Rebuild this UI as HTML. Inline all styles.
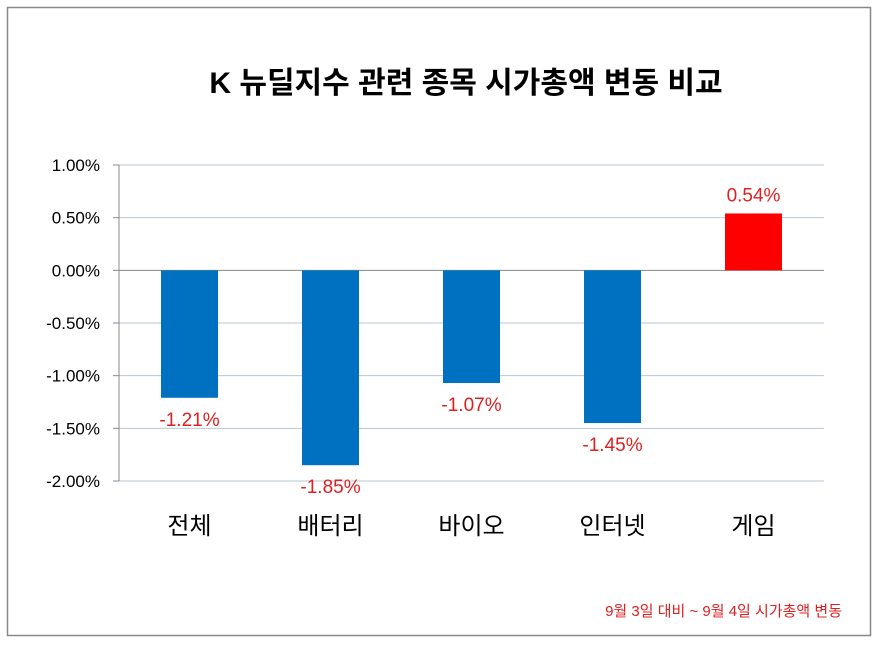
<!DOCTYPE html>
<html><head><meta charset="utf-8"><style>
body{margin:0;background:#fff;}
svg text{font-family:"Liberation Sans","Noto Sans CJK KR",sans-serif;}
</style></head><body>
<svg width="878" height="646" xmlns="http://www.w3.org/2000/svg">
<rect x="7.5" y="7.5" width="863" height="628" fill="#fff" stroke="#888" stroke-width="1.5"/>
<text x="466" y="93" text-anchor="middle" font-size="30" font-weight="bold" fill="#000">K 뉴딜지수  관련  종목 시가총액 변동 비교</text>
<g id="grid"></g><g id="bars"></g><g id="labels"></g>
<text x="842" y="616" text-anchor="end" font-size="15" fill="#e02020">9월 3일 대비 ~ 9월 4일 시가총액 변동</text>
<script>
const categories=["전체","배터리","바이오","인터넷","게임"];
const values=[-1.21,-1.85,-1.07,-1.45,0.54];
const valueLabels=["-1.21%","-1.85%","-1.07%","-1.45%","0.54%"];
const ticks=[1,0.5,0,-0.5,-1,-1.5,-2];
const tickLabels=["1.00%","0.50%","0.00%","-0.50%","-1.00%","-1.50%","-2.00%"];
const ns="http://www.w3.org/2000/svg";
const x0=119,x1=824,yTop=165,yBot=481;
function y(v){return yTop+(1-v)/3*(yBot-yTop);}
const bw=(x1-x0)/categories.length;
function xc(i){return x0+bw*(i+0.5);}
function mk(t,a,p){const e=document.createElementNS(ns,t);for(const k in a)e.setAttribute(k,a[k]);p.appendChild(e);return e;}
const g=document.getElementById('grid'),b=document.getElementById('bars'),l=document.getElementById('labels');
ticks.forEach((v,i)=>{
 const ln=mk('line',{x1:x0,x2:x1,y1:y(v),y2:y(v),stroke:v===0?'#888':'#b8c6d3','stroke-width':1},g);
 
 
 const tk=mk('line',{x1:x0-6,x2:x0,y1:y(v),y2:y(v),stroke:'#888'},g);
 
 
 const t=mk('text',{x:x0-19,y:y(v)+6,'text-anchor':'end','font-size':17,fill:'#000'},g);
 t.textContent=tickLabels[i];
 
 
});
const ax=mk('line',{x1:x0,x2:x0,y1:yTop,y2:yBot,stroke:'#888'},g);


categories.forEach((c,i)=>{
 const v=values[i],w=57;
 const top=Math.min(y(v),y(0)),h=Math.abs(y(v)-y(0));
 const r=mk('rect',{x:xc(i)-w/2,y:top,width:w,height:h,fill:v>=0?'#ff0000':'#0070c0'},b);
 
 
 const t=mk('text',{x:xc(i),y:v>=0?y(v)-12:y(v)+28,'text-anchor':'middle','font-size':19,fill:'#e02020'},l);
 t.textContent=valueLabels[i];
 
 
 const ct=mk('text',{x:xc(i),y:534,'text-anchor':'middle','font-size':24,fill:'#000'},l);
 ct.textContent=c;
 
 
});
</script>
</svg>
</body></html>
